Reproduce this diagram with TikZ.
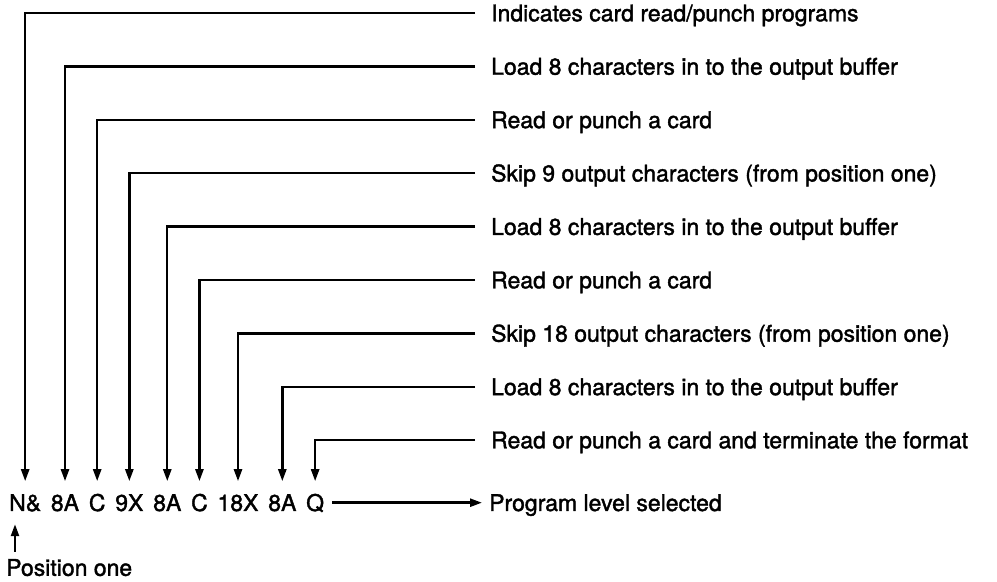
\documentclass[tikz,border=0pt]{standalone}
\usepackage{fontspec}
\setmainfont[FakeBold=1.6]{TeX Gyre Heros}
\usetikzlibrary{arrows.meta,positioning}

\begin{document}
\begin{tikzpicture}[x=0.5pt, y=-0.5pt, node distance=3.7pt, >={Triangle[length=6pt,width=4pt]}, line width=1.2pt,
    tok/.style={inner xsep=0pt, inner ysep=6pt, text height=8.3pt, text depth=0pt, font=\fontsize{11.5}{14}\selectfont},
    lbl/.style={anchor=west, inner xsep=7.5pt, inner ysep=0pt, text height=8.3pt, text depth=0pt, font=\fontsize{11.5}{14}\selectfont}]
    \useasboundingbox (0,0) rectangle (997,582);
    % format statement
    \node [tok, anchor=west] (t1) at (8,502.7) {N\&};
    \node [tok, right=of t1] (t2) {8A};
    \node [tok, right=of t2] (t3) {C};
    \node [tok, right=of t3] (t4) {9X};
    \node [tok, right=of t4] (t5) {8A};
    \node [tok, right=of t5] (t6) {C};
    \node [tok, right=of t6] (t7) {18X};
    \node [tok, right=of t7] (t8) {8A};
    \node [tok, right=of t8] (t9) {Q};
    % descriptions
    \node [lbl] (d1) at (475,13) {Indicates card read/punch programs};
    \node [lbl] (d2) at (475,66.4) {Load 8 characters in to the output buffer};
    \node [lbl] (d3) at (475,119.8) {Read or punch a card};
    \node [lbl] (d4) at (475,173.2) {Skip 9 output characters (from position one)};
    \node [lbl] (d5) at (475,226.6) {Load 8 characters in to the output buffer};
    \node [lbl] (d6) at (475,280) {Read or punch a card};
    \node [lbl] (d7) at (475,333.4) {Skip 18 output characters (from position one)};
    \node [lbl] (d8) at (475,386.8) {Load 8 characters in to the output buffer};
    \node [lbl] (d9) at (475,440) {Read or punch a card and terminate the format};
    \node [lbl, inner xsep=3pt] (prog) at (482,502.7) {Program level selected};
    \node [lbl, anchor=north west, inner xsep=0pt, inner ysep=3pt] (pos) at (5,552) {Position one};
    \coordinate (one) at ([xshift=3.5pt]t1.south west);

    \foreach \i in {1,...,9}
        \draw [->] (d\i.west) -| (t\i.north);
    \draw [->] ([xshift=3.5pt]t9.east) -- (prog.west);
    \draw [->] (pos.north -| one) -- (one);
\end{tikzpicture}
\end{document}
